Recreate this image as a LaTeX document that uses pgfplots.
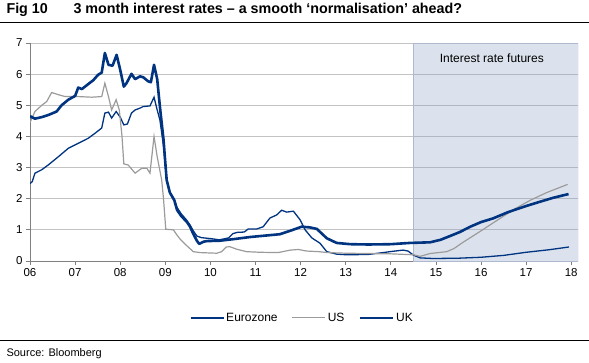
\documentclass[border=0pt]{standalone}
\usepackage{pgfplots}
\pgfplotsset{compat=1.18}
\usepackage{fontspec}
\setmainfont{Liberation Sans}
\definecolor{ukblue}{RGB}{0,51,128}
\definecolor{usgray}{RGB}{155,155,155}
\definecolor{gridgray}{RGB}{195,195,195}
\definecolor{axgray}{RGB}{128,128,128}
\definecolor{shade}{RGB}{140,160,195}
\definecolor{shadeborder}{RGB}{175,185,205}
\begin{document}
\begin{tikzpicture}
\useasboundingbox (-30pt,-101pt) rectangle (559pt,261pt);
\node[anchor=base west, font=\fontsize{14.3}{16}\selectfont\bfseries] at (-27pt,247pt) {Fig 10};
\node[anchor=base west, font=\fontsize{14.3}{16}\selectfont\bfseries] at (40pt,247pt) {3 month interest rates – a smooth ‘normalisation’ ahead?};
\draw[black, line width=1pt] (-30pt,238.5pt) -- (559pt,238.5pt);
\draw[black, line width=1pt] (-30pt,-79pt) -- (559pt,-79pt);
\node[anchor=base west, font=\fontsize{11}{13}\selectfont] at (-27pt,-95pt) {Source: Bloomberg};
\begin{axis}[
  at={(0pt,0pt)}, anchor=south west,
  scale only axis, width=548pt, height=218pt,
  xmin=6, xmax=18.15, ymin=0, ymax=7,
  axis lines=left, axis line style={-, axgray, line width=0.8pt},
  xtick={6,...,18}, xticklabels={06,07,08,09,10,11,12,13,14,15,16,17,18},
  ytick={0,...,7},
  tick align=outside, major tick length=4pt, tick style={axgray, line width=0.8pt},
  ymajorgrids, grid style={gridgray, line width=0.9pt},
  tick label style={font=\fontsize{11.5}{13}\selectfont},
  /pgf/number format/assume math mode=true,
  legend style={at={(0.497,-0.261)}, anchor=center, legend columns=3, draw=none, fill=none,
    font=\fontsize{12}{14}\selectfont,
    /tikz/every even column/.append style={column sep=12pt}},
  legend image code/.code={\draw[#1] (0pt,0pt) -- (33pt,0pt);},
]
\addplot[fill=shade, fill opacity=0.3, draw=shadeborder, line width=0.8pt, forget plot]
  coordinates {(14.5,0) (14.5,7) (18.15,7) (18.15,0)} \closedcycle;
\node[font=\fontsize{12}{14}\selectfont] at (axis cs:16.24,6.5) {Interest rate futures};

% Eurozone
\addplot[ukblue, line width=1.3pt] coordinates {
(6.00,2.48)(6.05,2.55)(6.11,2.82)(6.26,2.93)(6.41,3.09)(6.63,3.35)(6.85,3.62)(7.07,3.78)(7.29,3.94)(7.44,4.1)(7.59,4.27)(7.66,4.75)(7.74,4.78)(7.81,4.59)(7.91,4.8)(8.0,4.62)(8.08,4.37)(8.16,4.4)(8.25,4.75)(8.33,4.85)(8.44,4.91)(8.51,4.96)(8.66,4.98)(8.75,5.26)(8.82,4.85)(8.88,4.53)(8.96,3.7)(9.03,2.6)(9.1,2.2)(9.2,1.97)(9.26,1.72)(9.35,1.52)(9.48,1.3)(9.55,1.15)(9.62,0.97)(9.7,0.8)(9.8,0.75)(10.0,0.72)(10.2,0.68)(10.4,0.74)(10.5,0.88)(10.6,0.92)(10.75,0.93)(10.84,1.03)(11.03,1.03)(11.17,1.1)(11.32,1.38)(11.47,1.48)(11.58,1.63)(11.69,1.57)(11.84,1.6)(11.99,1.32)(12.1,1.0)(12.25,0.74)(12.43,0.57)(12.58,0.3)(12.8,0.22)(13.02,0.2)(13.5,0.21)(13.83,0.27)(13.98,0.3)(14.27,0.35)(14.38,0.32)(14.5,0.19)(14.65,0.1)(14.94,0.08)(15.5,0.09)(16.0,0.12)(16.5,0.18)(17.0,0.28)(17.5,0.36)(17.95,0.45)
};
\addlegendentry{Eurozone}
% US
\addplot[usgray, line width=1.2pt] coordinates {
(6.00,4.45)(6.11,4.8)(6.26,5.0)(6.37,5.12)(6.48,5.41)(6.63,5.34)(6.78,5.28)(7.07,5.28)(7.37,5.26)(7.59,5.28)(7.66,5.71)(7.74,5.28)(7.81,4.85)(7.91,5.18)(7.98,4.85)(8.04,4.0)(8.08,3.12)(8.18,3.08)(8.33,2.82)(8.48,2.98)(8.59,2.98)(8.66,2.82)(8.75,4.0)(8.82,3.35)(8.92,2.6)(8.96,2.0)(9.01,1.02)(9.18,1.0)(9.25,0.85)(9.33,0.7)(9.47,0.5)(9.62,0.3)(9.77,0.27)(10.14,0.25)(10.25,0.3)(10.35,0.45)(10.43,0.46)(10.58,0.38)(10.8,0.3)(11.1,0.28)(11.5,0.27)(11.77,0.35)(11.95,0.37)(12.13,0.32)(12.4,0.3)(12.6,0.27)(13.0,0.25)(13.5,0.24)(14.0,0.23)(14.5,0.2)(14.65,0.15)(14.87,0.24)(15.24,0.3)(15.4,0.4)(15.6,0.6)(15.98,0.95)(16.35,1.3)(16.72,1.65)(17.09,1.95)(17.46,2.2)(17.92,2.46)
};
\addlegendentry{US}
% UK
\addplot[ukblue, line width=2.6pt, line join=round] coordinates {
(6.00,4.65)(6.11,4.57)(6.26,4.62)(6.41,4.69)(6.59,4.8)(6.7,5.0)(6.85,5.18)(7.0,5.3)(7.07,5.57)(7.15,5.52)(7.29,5.68)(7.4,5.8)(7.51,5.98)(7.59,6.05)(7.66,6.68)(7.74,6.3)(7.83,6.27)(7.92,6.62)(8.0,6.14)(8.08,5.6)(8.14,5.71)(8.25,6.01)(8.33,5.84)(8.44,5.93)(8.51,5.9)(8.62,5.77)(8.68,5.74)(8.75,6.3)(8.82,5.84)(8.88,4.96)(8.96,3.9)(9.03,2.6)(9.1,2.2)(9.2,1.95)(9.26,1.64)(9.35,1.45)(9.48,1.25)(9.55,1.1)(9.61,0.9)(9.7,0.65)(9.75,0.55)(9.85,0.62)(9.92,0.64)(10.2,0.65)(10.5,0.7)(10.88,0.77)(11.1,0.8)(11.54,0.86)(11.77,0.97)(12.02,1.1)(12.2,1.08)(12.36,1.03)(12.58,0.73)(12.8,0.58)(13.1,0.54)(13.5,0.53)(14.0,0.54)(14.42,0.58)(14.87,0.6)(15.1,0.68)(15.31,0.8)(15.53,0.93)(15.76,1.1)(16.0,1.25)(16.27,1.37)(16.6,1.57)(17.01,1.77)(17.3,1.9)(17.6,2.03)(17.94,2.15)
};
\addlegendentry{UK}
\end{axis}
\end{tikzpicture}
\end{document}
